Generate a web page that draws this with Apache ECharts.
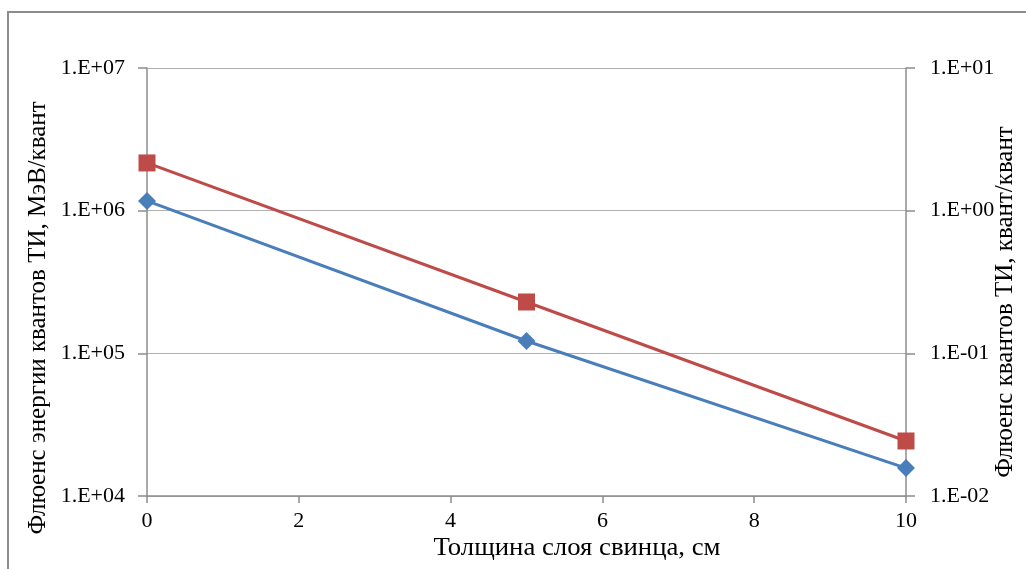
<!DOCTYPE html>
<html>
<head>
<meta charset="utf-8">
<script src="https://cdn.jsdelivr.net/npm/echarts@6/dist/echarts.min.js"></script>
<style>
html,body{margin:0;padding:0;background:#fff;}
#c{width:1026px;height:569px;}
</style>
</head>
<body>
<div id="c"></div>
<script>
// Data
const thickness = [0, 5, 10];
const energyFluence = [1.17e6, 1.22e5, 1.57e4];   // МэВ/квант (left axis)
const quantaFluence = [2.16, 0.229, 0.0243];     // квант/квант (right axis)
const xTicks = [0, 2, 4, 6, 8, 10];
const leftRange = [1e4, 1e7];
const rightRange = [1e-2, 1e1];
const xTitle = 'Толщина слоя свинца, см';
const leftTitle = 'Флюенс энергии квантов ТИ, МэВ/квант';
const rightTitle = 'Флюенс квантов ТИ, квант/квант';

function expFmt(v) {
  const e = Math.round(Math.log10(v));
  const s = e < 0 ? '-' : '+';
  const a = Math.abs(e);
  return '1.E' + s + (a < 10 ? '0' + a : '' + a);
}

const FONT = '"Liberation Serif", "Times New Roman", serif';
const axisCol = '#8c8c8c';
const gridCol = '#b0b0b0';

const chart = echarts.init(document.getElementById('c'), null, {renderer: 'canvas'});
chart.setOption({
  animation: false,
  backgroundColor: '#fff',
  grid: {left: 147, right: 120, top: 68, bottom: 73, containLabel: false},
  xAxis: {
    type: 'value', min: xTicks[0], max: xTicks[xTicks.length - 1], interval: 2,
    axisLine: {show: true, lineStyle: {color: axisCol, width: 1.5}},
    axisTick: {show: true, length: 7, lineStyle: {color: axisCol, width: 1.5}},
    axisLabel: {fontFamily: FONT, fontSize: 22, color: '#000', margin: 14},
    splitLine: {show: false}
  },
  yAxis: [
    {
      type: 'log', logBase: 10, min: leftRange[0], max: leftRange[1], position: 'left',
      axisLine: {show: true, lineStyle: {color: axisCol, width: 1.5}},
      axisTick: {show: true, length: 9, lineStyle: {color: axisCol, width: 1.5}},
      axisLabel: {fontFamily: FONT, fontSize: 22, color: '#000', margin: 22, formatter: expFmt},
      splitLine: {show: true, lineStyle: {color: gridCol, width: 1.2}},
      minorTick: {show: false}
    },
    {
      type: 'log', logBase: 10, min: rightRange[0], max: rightRange[1], position: 'right',
      axisLine: {show: true, lineStyle: {color: axisCol, width: 1.5}},
      axisTick: {show: true, length: 9, lineStyle: {color: axisCol, width: 1.5}},
      axisLabel: {fontFamily: FONT, fontSize: 22, color: '#000', margin: 24, formatter: expFmt},
      splitLine: {show: false}
    }
  ],
  series: [
    {
      type: 'line', yAxisIndex: 0,
      data: thickness.map((x, i) => [x, energyFluence[i]]),
      symbol: 'diamond', symbolSize: 18,
      lineStyle: {color: '#4a7ebb', width: 3},
      itemStyle: {color: '#4a7ebb'},
      z: 3
    },
    {
      type: 'line', yAxisIndex: 1,
      data: thickness.map((x, i) => [x, quantaFluence[i]]),
      symbol: 'rect', symbolSize: 17,
      lineStyle: {color: '#be4b48', width: 3},
      itemStyle: {color: '#be4b48'},
      z: 3
    }
  ],
  graphic: [
    {type: 'rect', shape: {x: 8, y: 12, width: 1200, height: 800},
     style: {fill: 'none', stroke: '#8c8c8c', lineWidth: 2}, silent: true},
    {type: 'text', x: 577, y: 548, scaleX: 1.07,
     style: {text: xTitle, font: '25px ' + FONT, fill: '#000', textAlign: 'center', textVerticalAlign: 'middle'}},
    {type: 'text', x: 38, y: 318, rotation: Math.PI / 2,
     style: {text: leftTitle, font: '25px ' + FONT, fill: '#000', textAlign: 'center', textVerticalAlign: 'middle'}},
    {type: 'text', x: 1005, y: 302, rotation: Math.PI / 2,
     style: {text: rightTitle, font: '25px ' + FONT, fill: '#000', textAlign: 'center', textVerticalAlign: 'middle'}}
  ]
});
</script>
</body>
</html>
